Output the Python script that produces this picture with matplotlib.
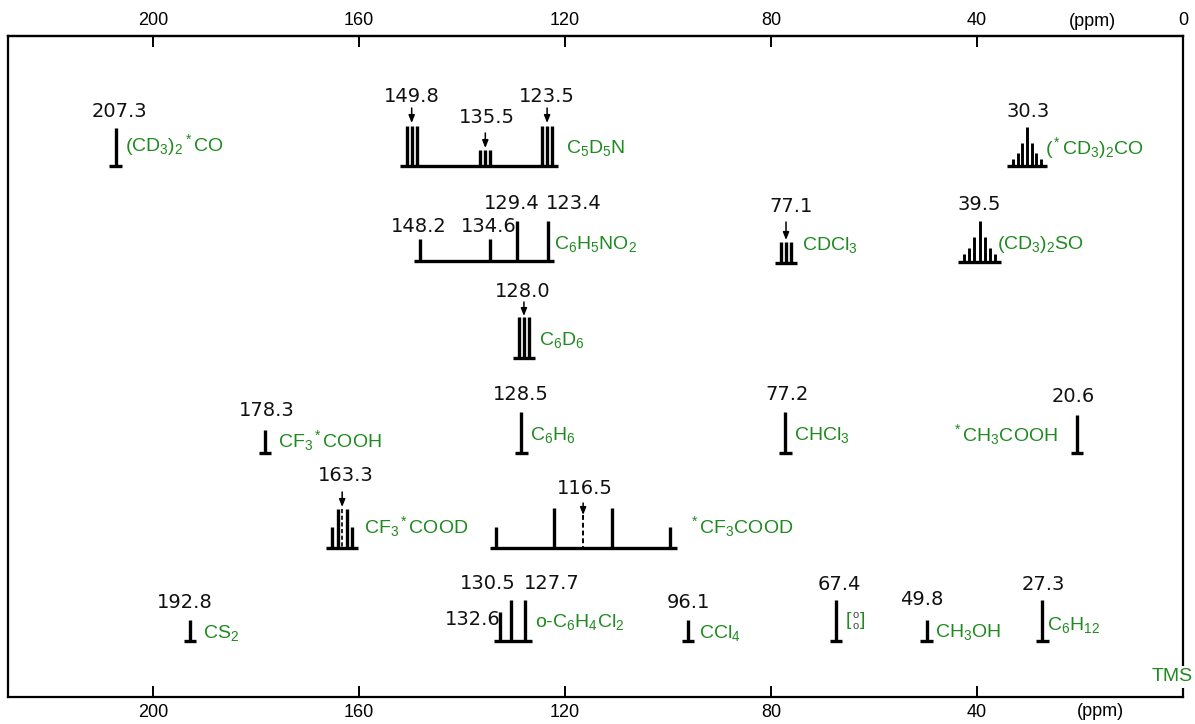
import matplotlib.pyplot as plt

plt.rcParams['font.family'] = 'Liberation Sans'
plt.rcParams['mathtext.fontset'] = 'custom'
plt.rcParams['mathtext.rm'] = 'Liberation Sans'
plt.rcParams['mathtext.it'] = 'Liberation Sans:italic'
plt.rcParams['mathtext.default'] = 'rm'

GREEN = '#1f8a1f'

##### data #####
# single-line solvents: shift (ppm), row baseline, line height
single_ppm = [207.3, 178.3, 128.5, 77.2, 20.6, 192.8, 96.1, 67.4, 49.8, 27.3]
single_base = [166, 453, 453, 453, 453, 641, 641, 641, 641, 641]
single_h = [38, 23, 41, 41, 38, 21, 21, 41, 21, 41]

# pyridine-d5 (three triplets)
c5d5n_ppm = [150.8, 149.8, 148.8, 136.5, 135.5, 134.5, 124.5, 123.5, 122.5]
c5d5n_h = [40, 40, 40, 16, 16, 16, 40, 40, 40]
c5d5n_shift = [149.8, 135.5, 123.5]

# acetone-d6 methyl septet
acet_ppm = [33.0, 32.1, 31.2, 30.3, 29.4, 28.5, 27.6]
acet_h = [7, 13, 23, 39, 23, 13, 7]

# nitrobenzene
nb_ppm = [148.2, 134.6, 129.4, 123.4]
nb_h = [22, 22, 40, 40]

# CDCl3 triplet
cdcl3_ppm = [78.1, 77.1, 76.1]
cdcl3_h = [21, 21, 21]

# DMSO-d6 septet
dmso_ppm = [42.5, 41.5, 40.5, 39.5, 38.5, 37.5, 36.5]
dmso_h = [8, 14, 25, 41, 25, 14, 8]

# C6D6 triplet
c6d6_ppm = [129.0, 128.0, 127.0]
c6d6_h = [41, 41, 41]

# CF3*COOD quartet
cooq_ppm = [165.25, 164.2, 162.4, 161.35]
cooq_h = [21, 39, 39, 21]
cooq_shift = 163.3

# *CF3COOD quartet
cf3q_ppm = [133.45, 122.15, 110.85, 99.55]
cf3q_h = [21, 40, 40, 21]
cf3q_shift = 116.5

# o-dichlorobenzene
odcb_ppm = [132.6, 130.5, 127.7]
odcb_h = [29, 41, 41]

##### helpers #####
fig = plt.figure(figsize=(11.95, 7.24), dpi=100)
ax = fig.add_axes([8 / 1195, 1 - 697 / 724, 1175 / 1195, 661 / 724])
ax.set_xlim(228.2, 0)
ax.set_ylim(697, 36)


def bar(x, base, h):
    ax.vlines(x, base - h, base, color='k', lw=2.4)
    ax.hlines(base, x + 1.2, x - 1.2, color='k', lw=2.4)


def comb(xs, hs, base, lw=2.0):
    for x, h in zip(xs, hs):
        ax.vlines(x, base - h, base, color='k', lw=lw)
    ax.hlines(base, max(xs) + 1.2, min(xs) - 1.2, color='k', lw=2.4)


def arrow(x, y0, y1):
    ax.annotate('', xy=(x, y1), xytext=(x, y0),
                arrowprops=dict(arrowstyle='-|>,head_width=0.18,head_length=0.45',
                                lw=1.1, color='k', shrinkA=0, shrinkB=0))


def num(val, x, y):
    ax.text(x, y, f'{val:.1f}', fontsize=14, ha='center', va='center', color='#111111',
            family='DejaVu Sans')


def name(txt, x, y, ha='left'):
    ax.text(x, y, txt, fontsize=14, ha=ha, va='center', color=GREEN)


##### single lines #####
for x, b, h in zip(single_ppm, single_base, single_h):
    bar(x, b, h)

num(single_ppm[0], 206.6, 112)
name(r'(CD$_3$)$_2{}^*$CO', 205.5, 145)
num(single_ppm[1], 177.9, 411)
name(r'CF$_3{}^*$COOH', 175.7, 441)
num(single_ppm[2], 128.6, 395)
name(r'C$_6$H$_6$', 126.8, 435)
num(single_ppm[3], 76.9, 395)
name(r'CHCl$_3$', 75.5, 435)
num(single_ppm[4], 21.4, 397)
name(r'$^*$CH$_3$COOH', 24.3, 435, ha='right')
num(single_ppm[5], 193.8, 603)
name(r'CS$_2$', 190.3, 633)
num(single_ppm[6], 96.1, 603)
name(r'CCl$_4$', 94.0, 633)
num(single_ppm[7], 66.8, 585)
num(single_ppm[8], 50.8, 600)
name(r'CH$_3$OH', 48.2, 632)
num(single_ppm[9], 27.1, 585)
name(r'C$_6$H$_{12}$', 26.5, 625)

# dioxane ring symbol
ax.text(65.0, 621, '[', fontsize=14, ha='center', va='center', color=GREEN)
ax.text(62.2, 621, ']', fontsize=14, ha='center', va='center', color=GREEN)
ax.text(63.6, 615, 'o', fontsize=8, ha='center', va='center', color='#444444')
ax.text(63.6, 626, 'o', fontsize=8, ha='center', va='center', color='#444444')

##### multiplets #####
comb(c5d5n_ppm, c5d5n_h, 166, lw=2.4)
arrow(c5d5n_shift[0], 108, 123)
arrow(c5d5n_shift[1], 133, 148)
arrow(c5d5n_shift[2], 108, 123)
num(c5d5n_shift[0], 149.7, 97)
num(c5d5n_shift[1], 135.1, 118)
num(c5d5n_shift[2], 123.6, 97)
name(r'C$_5$D$_5$N', 119.8, 148)

comb(acet_ppm, acet_h, 166, lw=2.1)
num(acet_ppm[3], 30.1, 112)
name(r'($^*$CD$_3$)$_2$CO', 26.8, 148)

comb(nb_ppm, nb_h, 261, lw=2.4)
num(nb_ppm[0], 148.5, 227)
num(nb_ppm[1], 134.9, 227)
num(nb_ppm[2], 130.4, 204)
num(nb_ppm[3], 118.3, 204)
name(r'C$_6$H$_5$NO$_2$', 122.2, 244)

comb(cdcl3_ppm, cdcl3_h, 263, lw=2.4)
arrow(cdcl3_ppm[1], 222, 240)
num(cdcl3_ppm[1], 76.2, 207)
name(r'CDCl$_3$', 73.9, 245)

comb(dmso_ppm, dmso_h, 262, lw=2.1)
num(dmso_ppm[3], 39.5, 205)
name(r'(CD$_3$)$_2$SO', 36.2, 245)

comb(c6d6_ppm, c6d6_h, 358, lw=2.4)
arrow(c6d6_ppm[1], 302, 316)
num(c6d6_ppm[1], 128.2, 292)
name(r'C$_6$D$_6$', 125.1, 340)

comb(cooq_ppm, cooq_h, 548, lw=2.4)
ax.vlines(cooq_shift, 548 - 39, 548, color='k', lw=1.2, linestyles=(0, (2.5, 1.5)))
arrow(cooq_shift, 492, 507)
num(cooq_shift, 162.6, 476)
name(r'CF$_3{}^*$COOD', 159.1, 527)

comb(cf3q_ppm, cf3q_h, 548, lw=2.4)
ax.vlines(cf3q_shift, 548 - 33, 548, color='k', lw=1.4, linestyles=(0, (2.5, 1.5)))
arrow(cf3q_shift, 503, 515)
num(cf3q_shift, 116.2, 489)
name(r'$^*$CF$_3$COOD', 95.9, 527)

comb(odcb_ppm, odcb_h, 641, lw=2.4)
num(odcb_ppm[0], 137.9, 620)
num(odcb_ppm[1], 135.1, 584)
num(odcb_ppm[2], 122.5, 584)
name(r'o-C$_6$H$_4$Cl$_2$', 125.9, 622)

##### axes #####
for sp in ax.spines.values():
    sp.set_linewidth(1.6)

ax.set_yticks([])
ax.set_xticks([200, 160, 120, 80, 40])
ax.tick_params(axis='x', direction='in', length=8, width=1.4, labelsize=13, pad=5)
top = ax.secondary_xaxis('top')
top.set_xticks([200, 160, 120, 80, 40, 0])
top.tick_params(direction='in', length=8, width=1.4, labelsize=13, pad=5)
top.spines['top'].set_linewidth(1.6)

ax.text(17.5, 22, '(ppm)', fontsize=13, ha='center', va='center')
ax.text(16.1, 712, '(ppm)', fontsize=13, ha='center', va='center')
ax.text(2.1, 677, 'TMS', fontsize=14, ha='center', va='center', color=GREEN, zorder=5,
        bbox=dict(facecolor='white', edgecolor='none', pad=1.5))

plt.savefig('out.png', dpi=100)
